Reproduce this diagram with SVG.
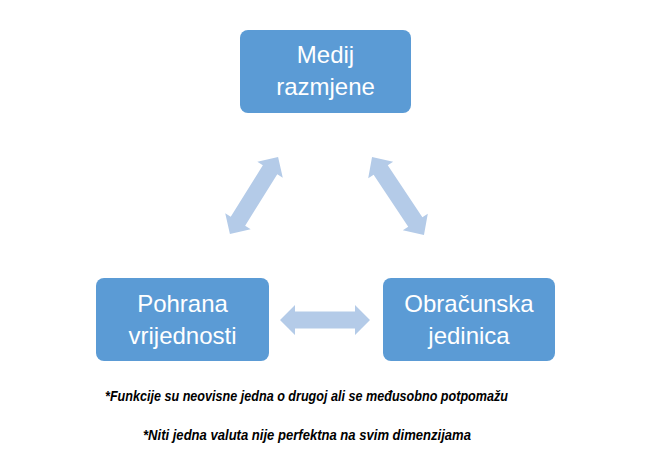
<svg xmlns="http://www.w3.org/2000/svg" width="651" height="476" viewBox="0 0 651 476">
<style>
.box{fill:#5b9bd5;}
.lbl{font-family:"Liberation Sans",Arial,sans-serif;font-size:24px;fill:#ffffff;text-anchor:middle;}
.arr{fill:#b4cbe8;}
.note{font-family:"Liberation Sans",Arial,sans-serif;font-size:14.5px;font-weight:bold;font-style:italic;fill:#000000;text-anchor:middle;}
</style>
<defs>
<polygon id="dbl" points="-45,0 -30,-15 -30,-8.5 30,-8.5 30,-15 45,0 30,15 30,8.5 -30,8.5 -30,15"/>
</defs>
<rect width="651" height="476" fill="#ffffff"/>
<g id="connectors">
<use href="#dbl" class="arr" transform="translate(325,320)"/>
<use href="#dbl" class="arr" transform="translate(254,195.5) rotate(-58) scale(1.01,1)"/>
<use href="#dbl" class="arr" transform="translate(398,196) rotate(56.3) scale(1.04,1)"/>
</g>
<g id="node-medij">
<rect class="box" x="240" y="30" width="171" height="83" rx="8"/>
<text class="lbl" x="325.5" y="63">Medij</text>
<text class="lbl" x="325.5" y="95">razmjene</text>
</g>
<g id="node-pohrana">
<rect class="box" x="96" y="278" width="173" height="83" rx="8"/>
<text class="lbl" x="182.5" y="312">Pohrana</text>
<text class="lbl" x="182.5" y="344">vrijednosti</text>
</g>
<g id="node-obracunska">
<rect class="box" x="383" y="278" width="172" height="83" rx="8"/>
<text class="lbl" x="469" y="312">Obračunska</text>
<text class="lbl" x="469" y="344">jedinica</text>
</g>
<g id="notes">
<text class="note" x="306.5" y="401" textLength="403" lengthAdjust="spacingAndGlyphs">*Funkcije su neovisne jedna o drugoj ali se međusobno potpomažu</text>
<text class="note" x="307" y="440" textLength="328" lengthAdjust="spacingAndGlyphs">*Niti jedna valuta nije perfektna na svim dimenzijama</text>
</g>
</svg>
